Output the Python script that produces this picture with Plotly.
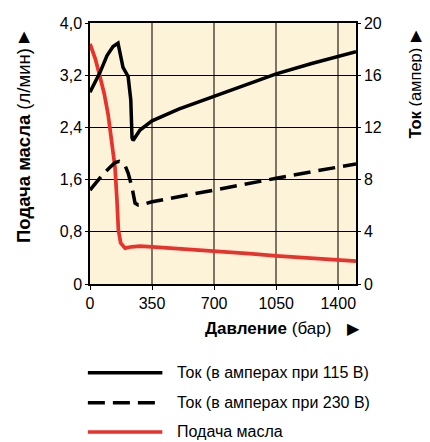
import plotly.graph_objects as go

# давление, бар
p_115 = [0, 56, 96, 130, 158, 173, 186, 215, 230, 237, 243, 282, 322, 350, 500, 700, 900, 1050, 1250, 1500]
i_115 = [14.7, 16.2, 17.5, 18.2, 18.45, 17.4, 16.6, 15.9, 14.1, 11.2, 11.0, 11.8, 12.2, 12.5, 13.4, 14.4, 15.4, 16.1, 16.9, 17.8]

p_230 = [0, 40, 73, 110, 141, 165, 181, 200, 215, 237, 254, 271, 300, 350, 500, 700, 900, 1050, 1250, 1500]
i_230 = [7.2, 7.9, 8.4, 8.9, 9.3, 9.4, 9.3, 9.0, 8.5, 7.4, 6.2, 6.05, 6.1, 6.3, 6.7, 7.2, 7.7, 8.1, 8.6, 9.2]

p_oil = [0, 30, 56, 80, 102, 130, 141, 152, 160, 173, 198, 235, 282, 350, 500, 700, 900, 1050, 1250, 1500]
q_oil = [3.68, 3.45, 3.18, 2.92, 2.6, 2.0, 1.79, 1.29, 0.83, 0.63, 0.55, 0.57, 0.58, 0.57, 0.545, 0.505, 0.465, 0.43, 0.395, 0.35]

x_ticks = [0, 350, 700, 1050, 1400]
y_ticks = [0, 0.8, 1.6, 2.4, 3.2, 4.0]
y_labels = ["0", "0,8", "1,6", "2,4", "3,2", "4,0"]
y2_ticks = [0, 4, 8, 12, 16, 20]

names = ["Ток (в амперах при 115 В)", "Ток (в амперах при 230 В)", "Подача масла"]

FONT = "Liberation Sans Narrow, Liberation Sans, Arial, sans-serif"
RED = "#e8322b"


def note(text, x, y, size, angle=0, anchor="center"):
    fig.add_annotation(text=text, xref="paper", yref="paper", x=x, y=y,
                       textangle=angle, showarrow=False, xanchor=anchor,
                       yanchor="middle", font=dict(size=size, color="black", family=FONT))


fig = go.Figure()
fig.add_trace(go.Scatter(x=p_oil, y=q_oil, mode="lines", name=names[2],
                         line=dict(color=RED, width=3.7), yaxis="y"))
fig.add_trace(go.Scatter(x=p_230, y=i_230, mode="lines", name=names[1],
                         line=dict(color="black", width=3.5, dash="17px,8px"), yaxis="y2"))
fig.add_trace(go.Scatter(x=p_115, y=i_115, mode="lines", name=names[0],
                         line=dict(color="black", width=3.5), yaxis="y2"))

# легенда вручную (длинные линии как в оригинале)
leg_y = [-0.34, -0.455, -0.567]
leg_style = [dict(color="black", width=3.5),
             dict(color="black", width=3.5, dash="17px,8px"),
             dict(color=RED, width=3.7)]
for yy, st, nm in zip(leg_y, leg_style, names):
    fig.add_shape(type="line", xref="paper", yref="paper", x0=-0.008, x1=0.272,
                  y0=yy, y1=yy, line=st)
    note(nm, 0.318, yy, 16, anchor="left")

# подписи осей
note("<b>Подача масла</b> (л/мин)", -0.248, 0.529, 18.5, angle=-90)
note("▶", -0.256, 0.946, 15, angle=-90)
note("<b>Ток</b> (ампер)", 1.222, 0.73, 16.5, angle=-90)
note("▶", 1.218, 0.95, 15, angle=-90)
note("<b>Давление</b> (бар)", 0.668, -0.169, 17)
note("▶", 0.992, -0.169, 16)

fig.update_layout(
    template="none",
    width=422, height=434,
    margin=dict(l=82, r=74, t=15, b=158, pad=0),
    paper_bgcolor="white",
    plot_bgcolor="#fdf3d9",
    showlegend=False,
    font=dict(family=FONT, size=16, color="black"),
    xaxis=dict(range=[0, 1500], tickvals=x_ticks, showgrid=True, gridcolor="#7d7464",
               gridwidth=1.5, showline=True, linecolor="black", linewidth=1.5,
               ticks="outside", ticklen=4, tickcolor="black", zeroline=False,
               mirror=True, automargin=False),
    yaxis=dict(range=[0, 4], tickvals=y_ticks, ticktext=y_labels, showgrid=True,
               gridcolor="black", gridwidth=1.2, showline=True, linecolor="black",
               linewidth=1.5, ticks="outside", ticklen=3, tickcolor="black",
               zeroline=False, automargin=False),
    yaxis2=dict(range=[0, 20], tickvals=y2_ticks, overlaying="y", side="right",
                showgrid=False, showline=True, linecolor="black", linewidth=1.5,
                ticks="outside", ticklen=3, tickcolor="black", zeroline=False,
                automargin=False),
)

fig.write_html("out.html")
